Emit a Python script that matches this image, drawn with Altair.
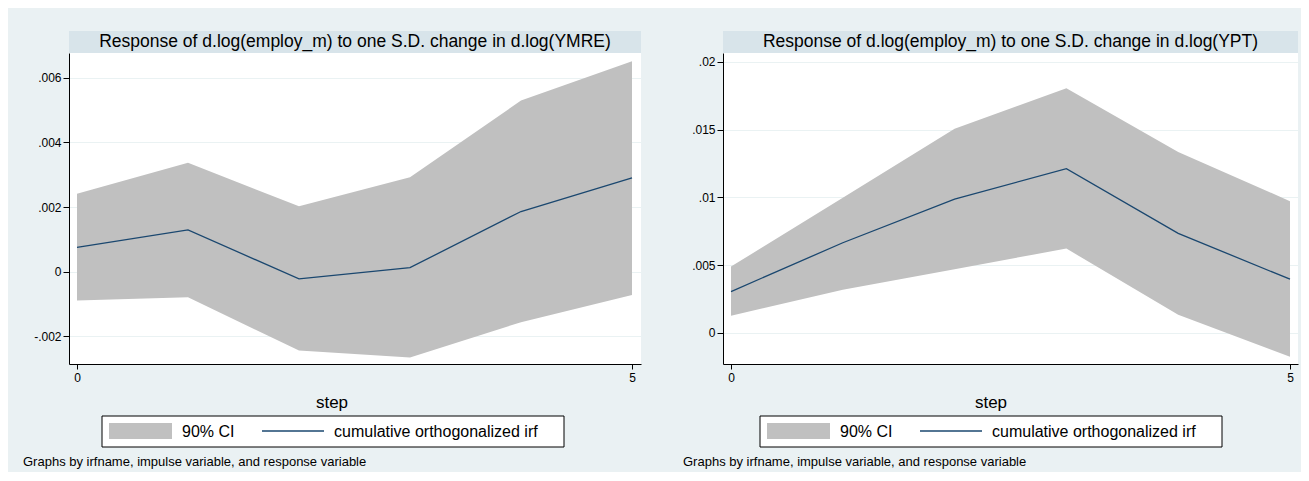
import altair as alt
import pandas as pd

# ---------------- data ----------------
steps = [0, 1, 2, 3, 4, 5]

ymre_irf = [0.00075, 0.00129, -0.00023, 0.00012, 0.00186, 0.00290]
ymre_lower = [-0.00090, -0.00080, -0.00245, -0.00267, -0.00157, -0.00073]
ymre_upper = [0.00241, 0.00337, 0.00202, 0.00292, 0.00530, 0.00652]

ypt_irf = [0.00306, 0.00666, 0.00988, 0.01213, 0.00735, 0.00397]
ypt_lower = [0.00127, 0.00319, 0.00471, 0.00623, 0.00135, -0.00176]
ypt_upper = [0.00490, 0.00998, 0.01507, 0.01806, 0.01336, 0.00973]

titles = [
    "Response of d.log(employ_m) to one S.D. change in d.log(YMRE)",
    "Response of d.log(employ_m) to one S.D. change in d.log(YPT)",
]
ymre_ticks = [-0.002, 0, 0.002, 0.004, 0.006]
ymre_tick_labels = ["-.002", "0", ".002", ".004", ".006"]
ypt_ticks = [0, 0.005, 0.01, 0.015, 0.02]
ypt_tick_labels = ["0", ".005", ".01", ".015", ".02"]
x_ticks = [0, 5]
x_title = "step"
legend_labels = ["90% CI", "cumulative orthogonalized irf"]
note = "Graphs by irfname, impulse variable, and response variable"

# ---------------- styles ----------------
FONT = "Liberation Sans"
BG = "#EAF1F3"
BAND = "#D8E4EA"
GRID = "#EAF2F3"
CI = "#C0C0C0"
LINE = "#1A476F"
H = 311


def label_expr(vals, labs):
    parts = []
    for v, l in zip(vals, labs):
        parts.append(f"abs(datum.value - ({v})) < 1e-9 ? '{l}' : ")
    return "".join(parts) + "''"


def panel(title, lower, upper, irf, yticks, ylabels, ydom, xdom, w, cx, note_dx, leg_x):
    df = pd.DataFrame({"step": steps, "lower": lower, "upper": upper, "irf": irf})
    one = pd.DataFrame({"k": [0]})
    xscale = alt.Scale(domain=xdom, nice=False, zero=False)
    yscale = alt.Scale(domain=ydom, nice=False, zero=False)
    xaxis = alt.Axis(values=x_ticks, title=None, grid=False, tickSize=5,
                     labelPadding=3, format="d")
    yaxis = alt.Axis(values=yticks, labelExpr=label_expr(yticks, ylabels),
                     title=None, grid=True, gridColor=GRID, gridWidth=1,
                     tickSize=6, labelPadding=2)

    band = alt.Chart(one).mark_rect(fill=BAND).encode(
        x=alt.value(0), x2=alt.value(w), y=alt.value(-22), y2=alt.value(0))
    ttl = alt.Chart(one).mark_text(text=title, font=FONT, fontSize=17.5,
                                   align="center", baseline="middle",
                                   color="black").encode(
        x=alt.value(w / 2), y=alt.value(-11))
    area = alt.Chart(df).mark_area(color=CI, opacity=1).encode(
        x=alt.X("step:Q", scale=xscale, axis=xaxis),
        y=alt.Y("lower:Q", scale=yscale, axis=yaxis),
        y2="upper:Q")
    line = alt.Chart(df).mark_line(color=LINE, strokeWidth=1.3).encode(
        x=alt.X("step:Q", scale=xscale, axis=xaxis),
        y=alt.Y("irf:Q", scale=yscale, axis=yaxis))
    step_t = alt.Chart(one).mark_text(text=x_title, font=FONT, fontSize=17,
                                      align="center", baseline="middle",
                                      color="black").encode(
        x=alt.value(cx), y=alt.value(350))
    leg_box = alt.Chart(one).mark_rect(fill="white", stroke="black",
                                       strokeWidth=1).encode(
        x=alt.value(leg_x), x2=alt.value(leg_x + 462),
        y=alt.value(363), y2=alt.value(394))
    leg_sw = alt.Chart(one).mark_rect(fill=CI).encode(
        x=alt.value(leg_x + 7), x2=alt.value(leg_x + 70),
        y=alt.value(370), y2=alt.value(386))
    leg_t1 = alt.Chart(one).mark_text(text=legend_labels[0], font=FONT, fontSize=16,
                                      align="left", baseline="middle",
                                      color="black").encode(
        x=alt.value(leg_x + 80), y=alt.value(378.5))
    leg_ln = alt.Chart(one).mark_rule(color=LINE, strokeWidth=1.3).encode(
        x=alt.value(leg_x + 160), x2=alt.value(leg_x + 222), y=alt.value(378))
    leg_t2 = alt.Chart(one).mark_text(text=legend_labels[1], font=FONT, fontSize=16,
                                      align="left", baseline="middle",
                                      color="black").encode(
        x=alt.value(leg_x + 232), y=alt.value(378.5))
    foot = alt.Chart(one).mark_text(text=note, font=FONT, fontSize=13,
                                    align="left", baseline="middle",
                                    color="black").encode(
        x=alt.value(note_dx), y=alt.value(409))
    return alt.layer(band, ttl, area, line, step_t, leg_box, leg_sw, leg_t1,
                     leg_ln, leg_t2, foot).properties(width=w, height=H)


left = panel(titles[0], ymre_lower, ymre_upper, ymre_irf, ymre_ticks,
             ymre_tick_labels, [-0.002868, 0.006775], [-0.072, 5.081],
             572, 263, -46, 33)
right = panel(titles[1], ypt_lower, ypt_upper, ypt_irf, ypt_ticks,
              ypt_tick_labels, [-0.002288, 0.020664], [-0.0716, 5.0716],
              575, 268, -40, 37)

chart = alt.hconcat(left, right, spacing=42).properties(
    padding={"left": 15, "top": 23, "right": 3, "bottom": 3},
    background=BG,
).configure_view(fill="white", stroke=None).configure_axis(
    labelFont=FONT, labelFontSize=12, labelColor="black",
    domainColor="black", domainWidth=1, tickColor="black", tickWidth=1,
)

chart.save("out.html", embed_options={"renderer": "svg", "actions": False})
